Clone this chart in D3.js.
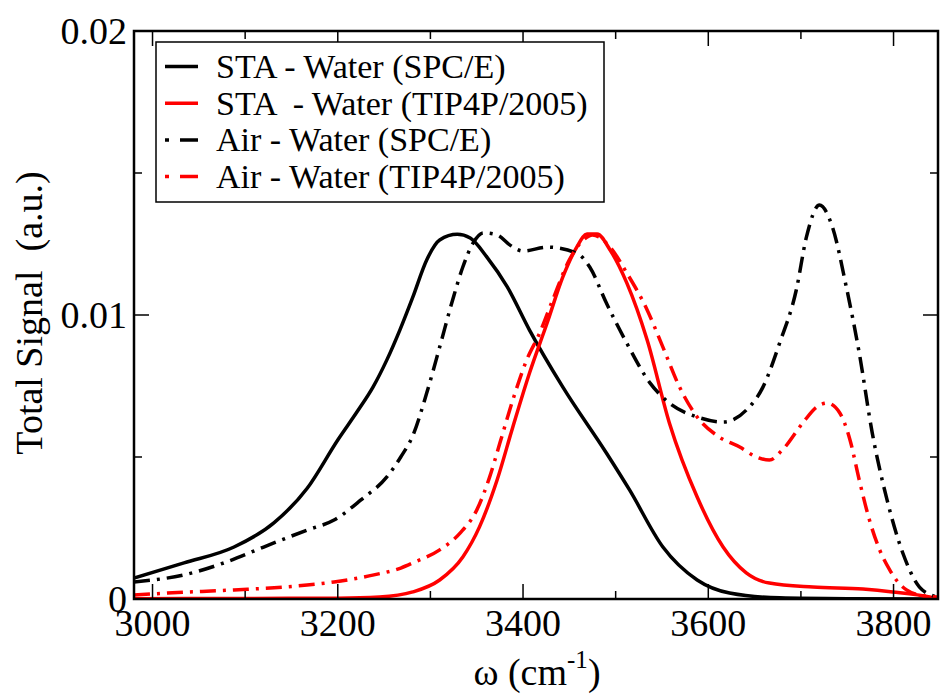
<!DOCTYPE html>
<html>
<head>
<meta charset="utf-8">
<script src="https://cdn.jsdelivr.net/npm/d3@7"></script>
<style>
  html, body { margin: 0; padding: 0; background: #fff; }
  svg { display: block; }
  svg text { font-family: "Liberation Serif", Tinos, "Nimbus Roman", "DejaVu Serif", serif; }
</style>
</head>
<body>
<svg id="chart" width="941" height="695"></svg>
<script>
// ---------- data ----------
const xMajorTicks = [3000, 3200, 3400, 3600, 3800];
const xMinorTicks = [3100, 3300, 3500, 3700];
const yMajorTicks = [0, 0.01, 0.02];
const yMinorTicks = [0.005, 0.015];
const yTickLabels = ["0", "0.01", "0.02"];

const seriesNames = [
  "STA - Water (SPC/E)",
  "STA  - Water (TIP4P/2005)",
  "Air - Water (SPC/E)",
  "Air - Water (TIP4P/2005)"
];
const seriesColors = ["#000000", "#ff0000", "#000000", "#ff0000"];
const seriesDashed = [false, false, true, true];

const staSpceW = [2980, 3034, 3088, 3131, 3167, 3200, 3221, 3238, 3253, 3267, 3281, 3296, 3310, 3329, 3343, 3361, 3383, 3407, 3443, 3490, 3515, 3551, 3588, 3623, 3677, 3750, 3848];
const staSpceS = [0.00074, 0.00127, 0.00183, 0.00268, 0.00390, 0.00560, 0.00660, 0.00746, 0.00842, 0.00947, 0.01063, 0.01194, 0.01264, 0.01284, 0.01271, 0.01204, 0.01099, 0.00947, 0.00746, 0.00514, 0.00384, 0.00183, 0.00067, 0.00021, 0.00004, 0.00001, 0.0];

const staTipW = [2980, 3100, 3200, 3245, 3281, 3310, 3335, 3353, 3372, 3389, 3407, 3426, 3443, 3458, 3469, 3480, 3494, 3512, 3534, 3558, 3588, 3616, 3641, 3666, 3713, 3767, 3799, 3839, 3848];
const staTipS = [0.00001, 0.00002, 0.00003, 0.00007, 0.00025, 0.00067, 0.00148, 0.00254, 0.00419, 0.00606, 0.00796, 0.00972, 0.01134, 0.01239, 0.01285, 0.01285, 0.01229, 0.01113, 0.00912, 0.00620, 0.00359, 0.00183, 0.00092, 0.00056, 0.00042, 0.00035, 0.00025, 0.00007, 0.0];

const airSpceW = [2980, 3034, 3077, 3120, 3167, 3196, 3225, 3253, 3268, 3281, 3296, 3310, 3324, 3335, 3346, 3357, 3372, 3386, 3400, 3426, 3458, 3472, 3490, 3512, 3537, 3558, 3588, 3616, 3641, 3659, 3677, 3695, 3706, 3720, 3734, 3749, 3763, 3777, 3793, 3810, 3828, 3847];
const airSpceS = [0.00060, 0.00085, 0.00127, 0.00183, 0.00243, 0.00278, 0.00349, 0.00430, 0.00500, 0.00575, 0.00725, 0.00887, 0.01053, 0.01169, 0.01253, 0.01289, 0.01282, 0.01246, 0.01225, 0.01239, 0.01218, 0.01169, 0.01042, 0.00901, 0.00761, 0.00690, 0.00641, 0.00623, 0.00665, 0.00746, 0.00901, 0.01088, 0.01275, 0.01387, 0.01310, 0.01099, 0.00866, 0.00585, 0.00349, 0.00162, 0.00042, 0.00007];

const airTipW = [2980, 3016, 3088, 3142, 3196, 3239, 3268, 3281, 3310, 3332, 3350, 3364, 3375, 3389, 3404, 3418, 3432, 3450, 3465, 3475, 3494, 3512, 3534, 3551, 3569, 3588, 3612, 3634, 3652, 3666, 3680, 3702, 3717, 3728, 3742, 3753, 3763, 3774, 3785, 3796, 3803, 3814, 3828, 3847];
const airTipS = [0.00014, 0.00021, 0.00032, 0.00042, 0.00060, 0.00085, 0.00109, 0.00127, 0.00173, 0.00232, 0.00313, 0.00430, 0.00549, 0.00701, 0.00842, 0.00937, 0.01053, 0.01194, 0.01264, 0.01282, 0.01239, 0.01148, 0.01018, 0.00887, 0.00746, 0.00641, 0.00570, 0.00535, 0.00500, 0.00489, 0.00525, 0.00620, 0.00676, 0.00690, 0.00655, 0.00560, 0.00419, 0.00278, 0.00173, 0.00102, 0.00067, 0.00032, 0.00014, 0.00007];

const seriesW = [staSpceW, staTipW, airSpceW, airTipW];
const seriesS = [staSpceS, staTipS, airSpceS, airTipS];

// ---------- layout ----------
const L = 134, R = 938, T = 31, B = 599;
const svg = d3.select("#chart");
const x = d3.scaleLinear().domain([2980, 3848]).range([L, R]);
const y = d3.scaleLinear().domain([0, 0.02]).range([B, T]);

svg.append("defs").append("clipPath").attr("id", "clip")
  .append("rect").attr("x", L).attr("y", T).attr("width", R - L).attr("height", B - T);

// curves
const line = d3.line().x(d => x(d[0])).y(d => y(d[1])).curve(d3.curveMonotoneX);
const curves = svg.append("g").attr("clip-path", "url(#clip)");
seriesNames.forEach((name, i) => {
  const pts = seriesW[i].map((w, k) => [w, seriesS[i][k]]);
  curves.append("path")
    .attr("d", line(pts))
    .attr("fill", "none")
    .attr("stroke", seriesColors[i])
    .attr("stroke-width", 3.5)
    .attr("stroke-linejoin", "round")
    .attr("stroke-dasharray", seriesDashed[i] ? "16,7,3,7" : null);
});

// ticks
const tk = svg.append("g").attr("stroke", "#000").attr("stroke-width", 1.5);
function xTick(v, len) {
  tk.append("line").attr("x1", x(v)).attr("x2", x(v)).attr("y1", B).attr("y2", B - len);
  tk.append("line").attr("x1", x(v)).attr("x2", x(v)).attr("y1", T).attr("y2", T + len);
}
function yTick(v, len) {
  tk.append("line").attr("y1", y(v)).attr("y2", y(v)).attr("x1", L).attr("x2", L + len);
  tk.append("line").attr("y1", y(v)).attr("y2", y(v)).attr("x1", R).attr("x2", R - len);
}
xMajorTicks.forEach(v => xTick(v, 15));
xMinorTicks.forEach(v => xTick(v, 8));
yMajorTicks.forEach(v => yTick(v, 15));
yMinorTicks.forEach(v => yTick(v, 8));

// frame
svg.append("rect").attr("x", L).attr("y", T).attr("width", R - L).attr("height", B - T)
  .attr("fill", "none").attr("stroke", "#000").attr("stroke-width", 2.5);

// tick labels
svg.append("g").selectAll("text").data(xMajorTicks).join("text")
  .attr("x", d => x(d)).attr("y", 636)
  .attr("text-anchor", "middle").attr("font-size", 38)
  .text(d => d);
svg.append("g").selectAll("text").data(yMajorTicks).join("text")
  .attr("x", 127).attr("y", d => y(d)).attr("dy", "0.34em")
  .attr("text-anchor", "end").attr("font-size", 38)
  .text((d, i) => yTickLabels[i]);

// axis titles
const xt = svg.append("text").attr("x", 537).attr("y", 685)
  .attr("text-anchor", "middle").attr("font-size", 38);
xt.append("tspan").text("ω (cm");
xt.append("tspan").attr("font-size", 25).attr("dy", -17).text("-1");
xt.append("tspan").attr("dy", 17).text(")");

svg.append("text")
  .attr("transform", "translate(42,313) rotate(-90)")
  .attr("text-anchor", "middle").attr("font-size", 38)
  .style("white-space", "pre")
  .text("Total Signal  (a.u.)");

// legend
const lg = svg.append("g");
lg.append("rect").attr("x", 156).attr("y", 42).attr("width", 448).attr("height", 160)
  .attr("fill", "#fff").attr("stroke", "#000").attr("stroke-width", 1.5);
seriesNames.forEach((name, i) => {
  const base = 78 + i * 36.7;
  lg.append("line")
    .attr("x1", 165).attr("x2", 198)
    .attr("y1", base - 11.5).attr("y2", base - 11.5)
    .attr("stroke", seriesColors[i]).attr("stroke-width", 3.5)
    .attr("stroke-dasharray", seriesDashed[i] ? "4,11,18" : null);
  lg.append("text").attr("x", 216).attr("y", base)
    .attr("font-size", 34)
    .style("white-space", "pre")
    .text(name);
});
</script>
</body>
</html>
